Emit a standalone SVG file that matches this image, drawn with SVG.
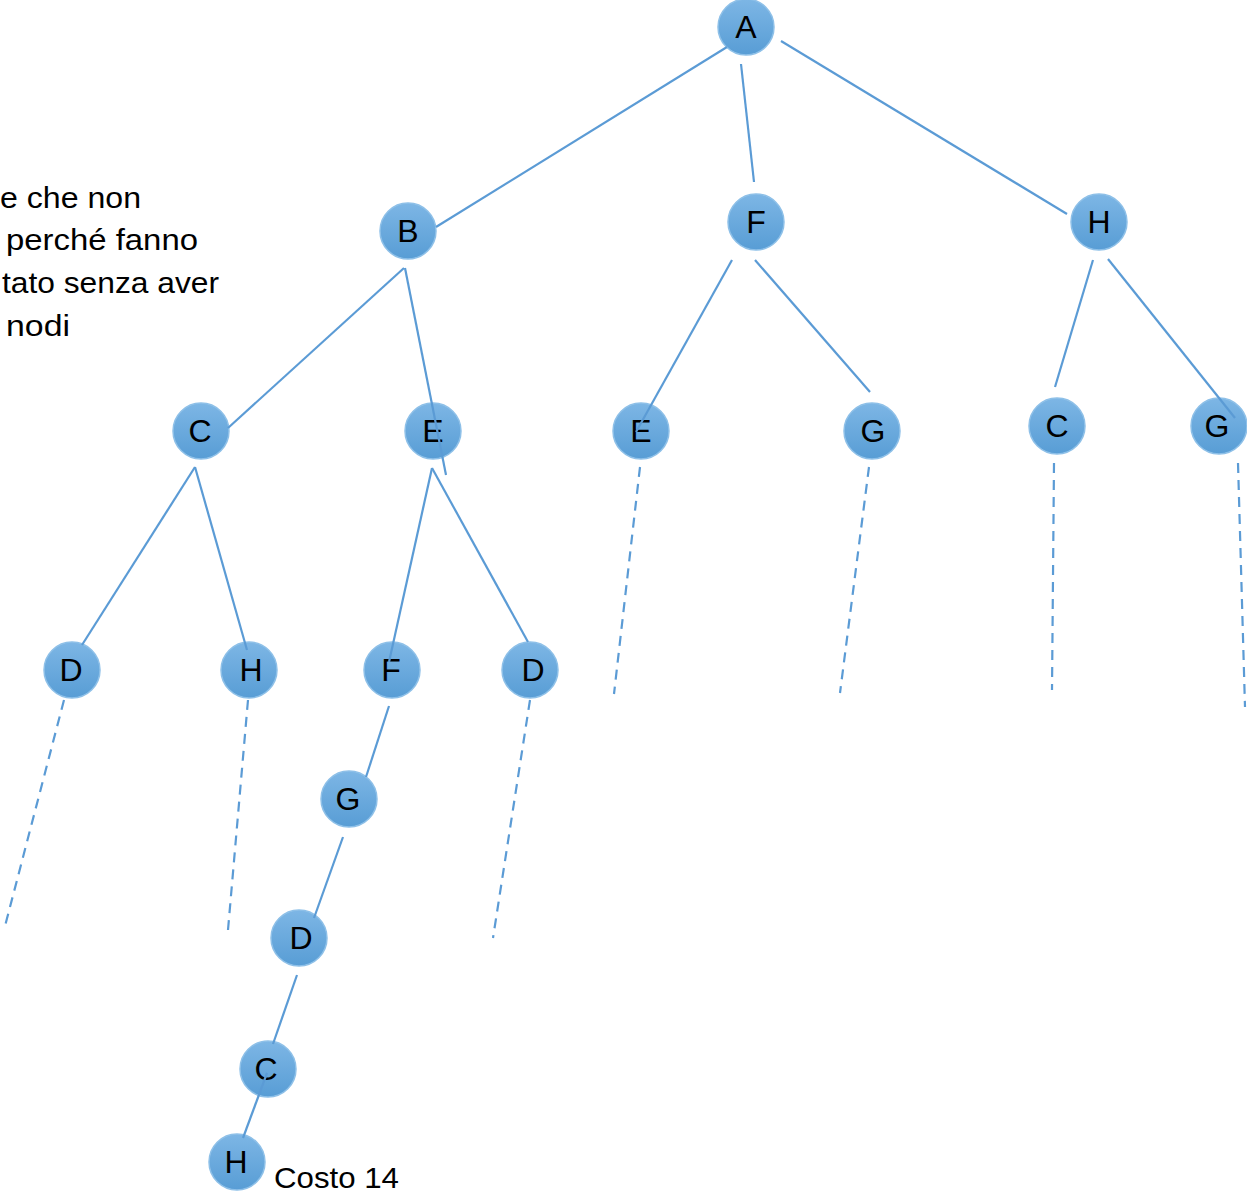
<svg xmlns="http://www.w3.org/2000/svg" width="1247" height="1194" viewBox="0 0 1247 1194">
<style>
.n circle{fill:url(#g);stroke:#8ec0e8;stroke-width:1.5}
.n text{font-family:"Liberation Sans",Arial,sans-serif;font-size:32px;fill:#000;text-anchor:middle}
.e{stroke:#5b9bd5;stroke-width:2.2;fill:none}
.d{stroke:#5b9bd5;stroke-width:2.2;fill:none;stroke-dasharray:10 7}
.t{font-family:"Liberation Sans",Arial,sans-serif;font-size:29px;fill:#000}
</style>
<defs>
<linearGradient id="g" x1="0" y1="0" x2="0" y2="1">
<stop offset="0" stop-color="#7db6e5"/>
<stop offset="1" stop-color="#589dd5"/>
</linearGradient>
</defs>
<rect width="1247" height="1194" fill="#fff"/>
<g id="note">
<text class="t" x="0" y="208" textLength="141" lengthAdjust="spacingAndGlyphs">e che non</text>
<text class="t" x="6" y="250" textLength="192" lengthAdjust="spacingAndGlyphs">perché fanno</text>
<text class="t" x="2" y="293" textLength="217" lengthAdjust="spacingAndGlyphs">tato senza aver</text>
<text class="t" x="6" y="336" textLength="64" lengthAdjust="spacingAndGlyphs">nodi</text>
</g>
<g id="n-A" class="n"><circle cx="746" cy="27" r="28"/><text x="746" y="38">A</text></g>
<g id="n-B" class="n"><circle cx="408" cy="231" r="28"/><text x="408" y="242">B</text></g>
<g id="n-F" class="n"><circle cx="756" cy="222" r="28"/><text x="756" y="233">F</text></g>
<g id="n-H" class="n"><circle cx="1099" cy="222" r="28"/><text x="1099" y="233">H</text></g>
<g id="n-C1" class="n"><circle cx="201" cy="431" r="28"/><text x="200" y="442">C</text></g>
<g id="n-E1" class="n"><circle cx="433" cy="431" r="28"/><text x="433" y="442">E</text></g>
<g id="n-E2" class="n"><circle cx="641" cy="431" r="28"/><text x="641" y="442">E</text></g>
<g id="n-G1" class="n"><circle cx="872" cy="431" r="28"/><text x="873" y="442">G</text></g>
<g id="n-C2" class="n"><circle cx="1057" cy="426" r="28"/><text x="1057" y="437">C</text></g>
<g id="n-G2" class="n"><circle cx="1219" cy="426" r="28"/><text x="1217" y="437">G</text></g>
<g id="n-D1" class="n"><circle cx="72" cy="670" r="28"/><text x="71" y="681">D</text></g>
<g id="n-H1" class="n"><circle cx="249" cy="670" r="28"/><text x="251" y="681">H</text></g>
<g id="n-F2" class="n"><circle cx="392" cy="670" r="28"/><text x="391" y="681">F</text></g>
<g id="n-D2" class="n"><circle cx="530" cy="670" r="28"/><text x="533" y="681">D</text></g>
<g id="n-G3" class="n"><circle cx="349" cy="799" r="28"/><text x="348" y="810">G</text></g>
<g id="n-D3" class="n"><circle cx="299" cy="938" r="28"/><text x="301" y="949">D</text></g>
<g id="n-C3" class="n"><circle cx="268" cy="1069" r="28"/><text x="266" y="1080">C</text></g>
<g id="n-H3" class="n"><circle cx="237" cy="1162" r="28"/><text x="236" y="1173">H</text></g>
<g id="connectors">
<line class="e" x1="727" y1="47" x2="436" y2="227"/>
<line class="e" x1="741" y1="64" x2="754" y2="182"/>
<line class="e" x1="781" y1="41" x2="1067" y2="214"/>
<line class="e" x1="404" y1="268" x2="228" y2="428"/>
<line class="e" x1="405" y1="268" x2="446" y2="475"/>
<line class="e" x1="732" y1="260" x2="636" y2="432"/>
<line class="e" x1="755" y1="260" x2="870" y2="392"/>
<line class="e" x1="1093" y1="260" x2="1055" y2="387"/>
<line class="e" x1="1108" y1="259" x2="1235" y2="418"/>
<line class="e" x1="195" y1="467" x2="82" y2="645"/>
<line class="e" x1="195" y1="467" x2="247" y2="650"/>
<line class="e" x1="432" y1="468" x2="389" y2="662"/>
<line class="e" x1="432" y1="468" x2="528" y2="642"/>
<line class="e" x1="389" y1="706" x2="366" y2="777"/>
<line class="e" x1="343" y1="837" x2="314" y2="918"/>
<line class="e" x1="297" y1="975" x2="273" y2="1044"/>
<line class="e" x1="267" y1="1073" x2="243" y2="1138"/>
<line class="d" x1="64" y1="700" x2="4" y2="930"/>
<line class="d" x1="248" y1="700" x2="228" y2="930"/>
<line class="d" x1="530" y1="700" x2="493" y2="938"/>
<line class="d" x1="640" y1="467" x2="614" y2="694"/>
<line class="d" x1="869" y1="467" x2="840" y2="693"/>
<line class="d" x1="1054" y1="463" x2="1052" y2="690"/>
<line class="d" x1="1238" y1="463" x2="1245" y2="707"/>
</g>
<text class="t" x="274" y="1188" textLength="125" lengthAdjust="spacingAndGlyphs">Costo 14</text>
</svg>
